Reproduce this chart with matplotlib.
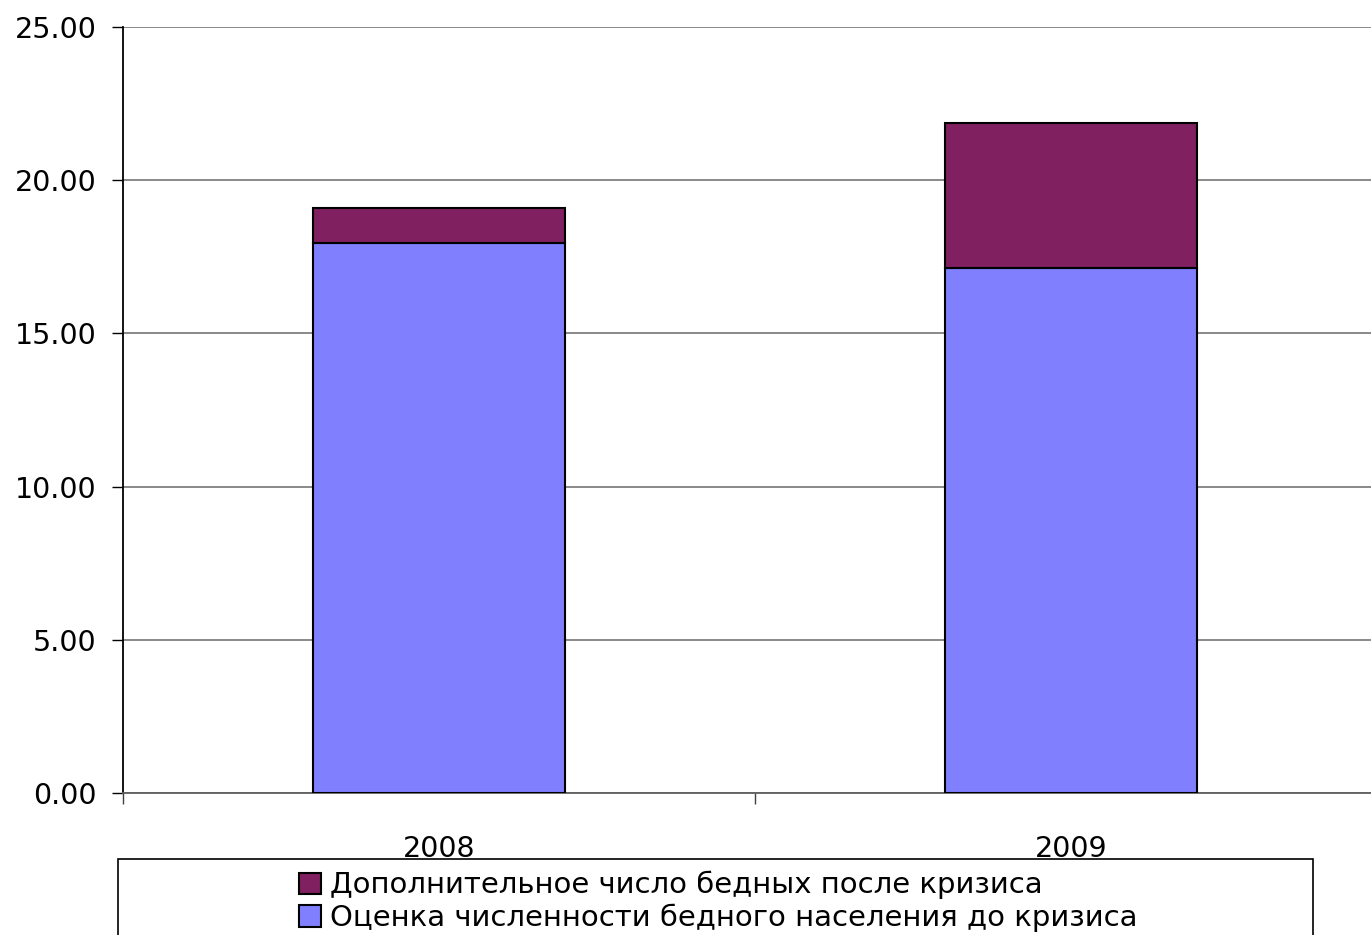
import matplotlib
matplotlib.use("Agg")
import matplotlib.pyplot as plt
from matplotlib.patches import Rectangle, Patch
from matplotlib.ticker import FormatStrFormatter

# data
years = ["2008", "2009"]
before_crisis = [17.95, 17.13]   # Оценка численности бедного населения до кризиса
extra_poor = [1.14, 4.74]        # Дополнительное число бедных после кризиса

label_extra = "Дополнительное число бедных после кризиса"
label_before = "Оценка численности бедного населения до кризиса"

c_before = "#8080FF"
c_extra = "#802060"

plt.rcParams["font.family"] = ["DejaVu Sans"]

fig = plt.figure(figsize=(13.71, 9.35), dpi=100)
ax = fig.add_axes([123 / 1371, 142 / 935, 1264 / 1371, 766 / 935])

x = [i + 0.5 for i in range(len(years))]
ax.bar(x, before_crisis, width=0.4, color=c_before, edgecolor="black", linewidth=1.5, zorder=3)
ax.bar(x, extra_poor, width=0.4, bottom=before_crisis, color=c_extra,
       edgecolor="black", linewidth=1.5, zorder=3)

ax.set_xlim(0, len(years))
ax.set_ylim(0, 25)
ax.set_yticks([0, 5, 10, 15, 20, 25])
ax.yaxis.set_major_formatter(FormatStrFormatter("%.2f"))
ax.yaxis.grid(True, color="#808080", linewidth=1.3, zorder=0)

# category borders as major ticks, year names as minor labels
ax.set_xticks(range(len(years) + 1))
ax.set_xticklabels([])
ax.set_xticks(x, minor=True)
ax.set_xticklabels(years, minor=True)
ax.tick_params(axis="x", which="major", direction="out", length=8, width=1, color="#404040")
ax.tick_params(axis="x", which="minor", length=0, pad=30, labelsize=20.5)
ax.tick_params(axis="y", direction="out", length=8, width=1, pad=11, labelsize=20.5)

for s in ["top", "right"]:
    ax.spines[s].set_visible(False)
ax.spines["left"].set_color("black")
ax.spines["left"].set_linewidth(1.3)
ax.spines["bottom"].set_color("#606060")
ax.spines["bottom"].set_linewidth(1.3)

# legend box (runs off the bottom of the picture, as in the original)
fig.patches.append(Rectangle((118 / 1371, -0.05), (1313 - 118) / 1371, (935 - 859) / 935 + 0.05,
                             transform=fig.transFigure, facecolor="white",
                             edgecolor="black", linewidth=1.2, zorder=1))
handles = [Patch(facecolor=c_extra, edgecolor="black", linewidth=1.5),
           Patch(facecolor=c_before, edgecolor="black", linewidth=1.5)]
fig.legend(handles, [label_extra, label_before], loc="upper left",
           bbox_to_anchor=(299 / 1371, (935 - 871) / 935), frameon=False, fontsize=21,
           handlelength=0.75, handleheight=0.75, handletextpad=0.3,
           labelspacing=0.15, borderpad=0, borderaxespad=0)

fig.savefig("out.png", dpi=100)
